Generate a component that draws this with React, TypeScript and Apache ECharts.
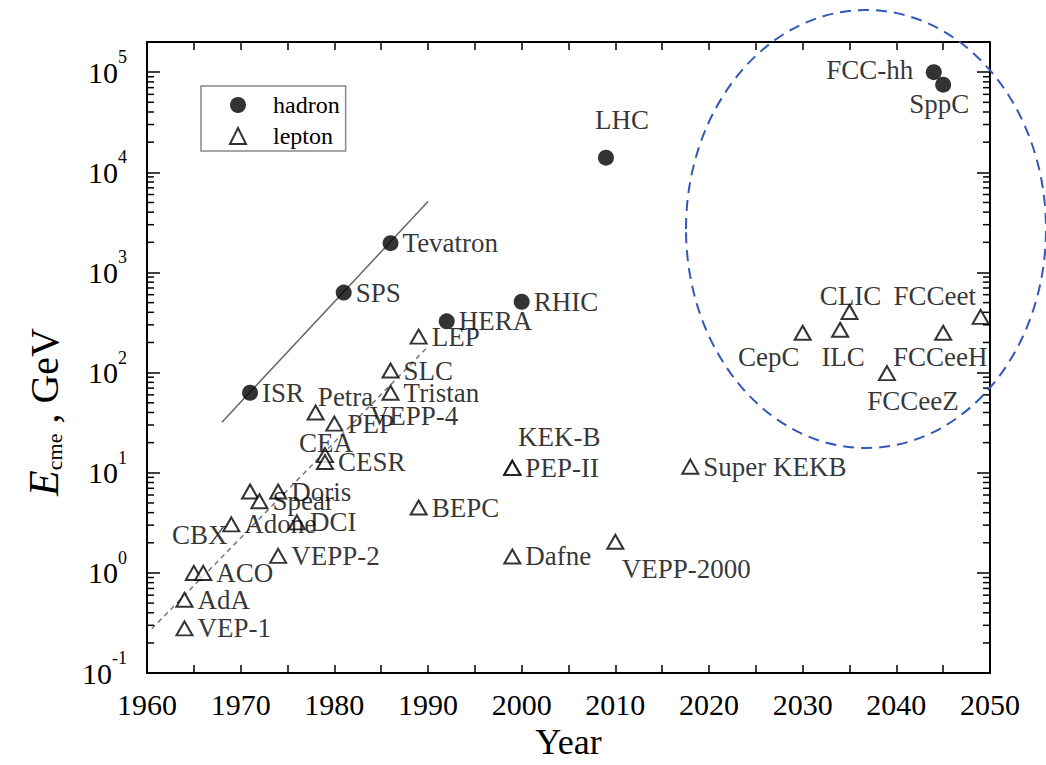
import React, { useEffect, useRef } from "react";
import * as echarts from "echarts";

// ---- data ----
const hadronNames = ["ISR", "SPS", "Tevatron", "HERA", "RHIC", "LHC", "FCC-hh", "SppC"];
const hadronYears = [1971, 1981, 1986, 1992, 2000, 2009, 2044, 2045];
const hadronEnergy = [63, 630, 1960, 325, 510, 14000, 100000, 75000];

const leptonNames = [
  "VEP-1", "AdA", "CBX", "ACO", "Adone", "", "Spear", "Doris", "DCI", "VEPP-2",
  "Petra", "PEP", "CEA", "CESR", "SLC", "Tristan", "LEP", "BEPC", "PEP-II", "KEK-B",
  "Dafne", "VEPP-2000", "Super KEKB", "CepC", "ILC", "CLIC", "FCCeeZ", "FCCeeH", "FCCeet",
];
const leptonYears = [
  1964, 1964, 1965, 1966, 1969, 1971, 1972, 1974, 1976, 1974,
  1978, 1980, 1979, 1979, 1986, 1986, 1989, 1989, 1999, 1999,
  1999, 2010, 2018, 2030, 2034, 2035, 2039, 2045, 2049,
];
const leptonEnergy = [
  0.28, 0.54, 1.0, 1.0, 3.05, 6.5, 5.2, 6.5, 3.2, 1.48,
  40, 31, 15, 12.8, 105, 63, 229, 4.5, 11.2, 11.2,
  1.46, 2.05, 11.5, 250, 268, 403, 99, 250, 360,
];

// label-only annotation
const noteNames = ["VEPP-4"];
const noteYears = [1988.5];
const noteEnergy = [37];

// trend lines
const solidTrendYears = [1968, 1990];
const solidTrendEnergy = [32, 5100];
const dashedTrendYears = [1960.5, 1990];
const dashedTrendEnergy = [0.277, 182];

const xTickLabels = [1960, 1970, 1980, 1990, 2000, 2010, 2020, 2030, 2040, 2050];

// ---- styles (label placement, px offsets from the marker centre) ----
const serif = "'Liberation Serif', 'Times New Roman', serif";
const INK = "#000";
const LABEL_OFFSETS: Record<string, [number, number]> = {
  LHC: [16, -38],
  "FCC-hh": [-64, -2],
  SppC: [-4, 19],
  CBX: [6, -38],
  Petra: [30, -15],
  CEA: [1, -12],
  "KEK-B": [47, -31],
  "VEPP-2000": [71, 27],
  CepC: [-34, 24],
  ILC: [3, 27],
  CLIC: [1, -16],
  FCCeet: [-46, -21],
  FCCeeH: [-3, 24],
  FCCeeZ: [26, 28],
};

function labelFor(name: string) {
  const base = {
    show: name !== "",
    formatter: "{b}",
    fontFamily: serif,
    fontSize: 27,
    color: INK,
  };
  const off = LABEL_OFFSETS[name];
  if (off) return { ...base, position: "inside", offset: off };
  return { ...base, position: "right", distance: 4 };
}

export default function App() {
  const ref = useRef<HTMLDivElement>(null);
  useEffect(() => {
    if (!ref.current) return;
    const chart = echarts.init(ref.current, null, { renderer: "svg" });

    const hadronData = hadronNames.map((n, i) => ({
      name: n,
      value: [hadronYears[i], hadronEnergy[i]],
      label: labelFor(n),
    }));
    const leptonData = leptonNames.map((n, i) => ({
      name: n,
      value: [leptonYears[i], leptonEnergy[i]],
      label: labelFor(n),
    }));
    const noteData = noteNames.map((n, i) => ({
      name: n,
      value: [noteYears[i], noteEnergy[i]],
    }));

    const minorVals: number[] = [];
    for (let k = -1; k <= 5; k++) {
      for (let m = 2; m <= 9; m++) {
        const v = m * Math.pow(10, k);
        if (v < 2e5) minorVals.push(v);
      }
    }

    const axisLine = { show: true, onZero: false, lineStyle: { color: INK, width: 2 } };
    const xTick = { show: true, inside: true, length: 8, lineStyle: { color: INK, width: 1.5 } };
    const yTick = { show: true, inside: true, length: 13, lineStyle: { color: INK, width: 1.5 } };

    const option: any = {
      animation: false,
      backgroundColor: "#ffffff",
      grid: { left: 147, right: 56, top: 42, bottom: 84 },
      legend: {
        data: ["hadron", "lepton"],
        orient: "vertical",
        left: 201,
        top: 86,
        padding: [7, 6, 3, 28],
        itemWidth: 16,
        itemHeight: 16,
        itemGap: 7,
        borderColor: "#888",
        borderWidth: 1.5,
        textStyle: { fontFamily: serif, fontSize: 24, color: INK, padding: [0, 0, 0, 22] },
      },
      xAxis: [
        {
          type: "value",
          min: 1960,
          max: 2050,
          interval: 5,
          position: "bottom",
          axisLine,
          axisTick: xTick,
          splitLine: { show: false },
          axisLabel: {
            formatter: (v: number) => (xTickLabels.includes(v) ? String(v) : ""),
            fontFamily: serif,
            fontSize: 30,
            color: INK,
            margin: 16,
          },
          name: "Year",
          nameLocation: "middle",
          nameGap: 48,
          nameTextStyle: { fontFamily: serif, fontSize: 36, color: INK },
        },
        {
          type: "value",
          min: 1960,
          max: 2050,
          interval: 5,
          position: "top",
          axisLine,
          axisTick: xTick,
          splitLine: { show: false },
          axisLabel: { show: false },
        },
      ],
      yAxis: [
        {
          type: "log",
          logBase: 10,
          min: 0.1,
          max: 2e5,
          position: "left",
          axisLine,
          axisTick: yTick,
          splitLine: { show: false },
          axisLabel: {
            showMaxLabel: false,
            margin: 20,
            formatter: (v: number) => `{b|10}{s|${Math.round(Math.log10(v))}}`,
            rich: {
              b: { fontFamily: serif, fontSize: 30, color: INK, verticalAlign: "middle" },
              s: {
                fontFamily: serif,
                fontSize: 18,
                color: INK,
                verticalAlign: "bottom",
                padding: [0, 0, 30, 0],
              },
            },
          },
        },
        {
          type: "log",
          logBase: 10,
          min: 0.1,
          max: 2e5,
          position: "right",
          axisLine,
          axisTick: yTick,
          splitLine: { show: false },
          axisLabel: { show: false },
        },
      ],
      graphic: [
        {
          type: "text",
          x: 44,
          y: 412,
          rotation: Math.PI / 2,
          z: 100,
          style: {
            text: "{e|E}{c|cme}{g| , GeV}",
            align: "center",
            verticalAlign: "middle",
            fill: INK,
            rich: {
              e: { fontFamily: serif, fontSize: 42, fontStyle: "italic", fill: INK },
              c: { fontFamily: serif, fontSize: 22, verticalAlign: "bottom", fill: INK },
              g: { fontFamily: serif, fontSize: 40, fill: INK },
            },
          },
        },
        {
          type: "ellipse",
          z: 100,
          shape: { cx: 866, cy: 229, rx: 180, ry: 219 },
          style: { fill: "none", stroke: "#3358b8", lineWidth: 2, lineDash: [11, 7] },
        },
      ],
      series: [
        {
          name: "solidTrend",
          type: "line",
          symbol: "none",
          data: solidTrendYears.map((y, i) => [y, solidTrendEnergy[i]]),
          lineStyle: { color: "#666", width: 1.5 },
          z: 1,
        },
        {
          name: "dashedTrend",
          type: "line",
          symbol: "none",
          data: dashedTrendYears.map((y, i) => [y, dashedTrendEnergy[i]]),
          lineStyle: { color: "#777", width: 1.5, type: [5, 4] },
          z: 1,
        },
        {
          name: "minorTicks",
          type: "custom",
          data: minorVals.map((v) => [1960, v]),
          silent: true,
          renderItem: (params: any, api: any) => {
            const v = api.value(1);
            const pl = api.coord([1960, v]);
            const pr = api.coord([2050, v]);
            const st = { stroke: INK, lineWidth: 1.5 };
            return {
              type: "group",
              children: [
                { type: "line", shape: { x1: pl[0], y1: pl[1], x2: pl[0] + 7, y2: pl[1] }, style: st },
                { type: "line", shape: { x1: pr[0], y1: pr[1], x2: pr[0] - 7, y2: pr[1] }, style: st },
              ],
            };
          },
          z: 2,
        },
        {
          name: "hadron",
          type: "scatter",
          symbol: "circle",
          symbolSize: 16,
          itemStyle: { color: INK },
          data: hadronData,
          z: 5,
        },
        {
          name: "lepton",
          type: "scatter",
          symbol: "triangle",
          symbolSize: [16, 14],
          itemStyle: { color: "#fff", borderColor: INK, borderWidth: 2 },
          data: leptonData,
          z: 4,
        },
        {
          name: "notes",
          type: "scatter",
          symbolSize: 0,
          data: noteData,
          label: {
            show: true,
            position: "inside",
            formatter: "{b}",
            fontFamily: serif,
            fontSize: 27,
            color: INK,
          },
          z: 3,
        },
      ],
    };
    chart.setOption(option);
    return () => chart.dispose();
  }, []);
  return (
    <div
      ref={ref}
      style={{ position: "fixed", left: 0, top: 0, width: 1046, height: 765, background: "#fff" }}
    />
  );
}
